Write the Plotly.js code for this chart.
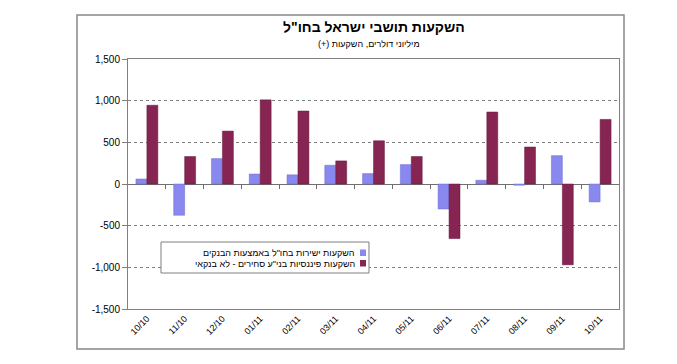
<!DOCTYPE html>
<html>
<head>
<meta charset="utf-8">
<script src="https://cdn.plot.ly/plotly-3.0.1.min.js"></script>
<style>
html,body{margin:0;padding:0;background:#fff;}
#chart{width:677px;height:364px;}
</style>
</head>
<body>
<div id="chart"></div>
<script>
const categories = ['10/10','11/10','12/10','01/11','02/11','03/11','04/11','05/11','06/11','07/11','08/11','09/11','10/11'];
const banksValues = [60, -375, 305, 120, 110, 225, 125, 233, -300, 45, -15, 340, -215];
const nonBankValues = [945, 330, 635, 1010, 876, 277, 519, 330, -655, 864, 444, -970, 775];
const seriesNames = ['השקעות ישירות בחו"ל באמצעות הבנקים', 'השקעות פיננסיות בני"ע סחירים - לא בנקאי'];
const titleText = 'השקעות תושבי ישראל בחו"ל';
const subtitleText = 'מיליוני דולרים, השקעות (+)';
const yTickVals = [-1500, -1000, -500, 0, 500, 1000, 1500];
const yTickText = ['-1,500', '-1,000', '-500', '0', '500', '1,000', '1,500'];

const blue = '#8888ee';
const red = '#862452';
const RLM = '\u200F';
const FAM = 'Liberation Sans, Arial, sans-serif';

const traces = [
  {type: 'bar', x: categories, y: banksValues, name: seriesNames[0],
   marker: {color: blue, line: {color: '#6c6cd4', width: 0.5}}},
  {type: 'bar', x: categories, y: nonBankValues, name: seriesNames[1],
   marker: {color: red, line: {color: '#661a3e', width: 0.5}}},
  {type: 'scatter', x: [], y: [], xaxis: 'x2', yaxis: 'y', mode: 'markers', showlegend: false, hoverinfo: 'skip'}
];

const boundaries = [];
for (let i = 0; i < categories.length - 1; i++) boundaries.push(i + 0.5);

const font = {family: FAM, size: 10, color: '#000'};

const layout = {
  width: 677, height: 364,
  margin: {l: 128, r: 58, t: 59, b: 55},
  paper_bgcolor: '#fff', plot_bgcolor: '#fff',
  showlegend: false,
  barmode: 'group', bargap: 0.42, bargroupgap: 0,
  font: font,
  xaxis: {
    type: 'category', tickangle: -45, ticks: '', showgrid: false,
    showline: true, mirror: true, linecolor: '#808080', linewidth: 1,
    tickfont: {family: FAM, size: 9, color: '#000'},
    zeroline: false, fixedrange: true
  },
  xaxis2: {
    type: 'linear', overlaying: 'x', anchor: 'free', position: 0.5,
    range: [-0.5, categories.length - 0.5], tickmode: 'array', tickvals: boundaries,
    ticks: 'outside', ticklen: 4, tickcolor: '#707070', showticklabels: false,
    showgrid: false, showline: false, zeroline: false, fixedrange: true
  },
  yaxis: {
    range: [-1500, 1500], tickmode: 'array', tickvals: yTickVals, ticktext: yTickText,
    ticks: 'outside', ticklen: 5, tickcolor: '#808080',
    showline: true, mirror: true, linecolor: '#808080', linewidth: 1,
    showgrid: true, gridcolor: '#808080', griddash: 'dot', gridwidth: 1,
    zeroline: true, zerolinecolor: '#707070', zerolinewidth: 1,
    tickfont: font, fixedrange: true
  },
  shapes: [
    {type: 'rect', xref: 'paper', yref: 'paper', x0: -0.1039, x1: 1.0102, y0: -0.16, y1: 1.176,
     line: {color: '#888', width: 1.5}, fillcolor: 'rgba(0,0,0,0)', layer: 'below'},
    {type: 'rect', xref: 'paper', yref: 'paper', x0: 0.0672, x1: 0.4908, y0: 0.144, y1: 0.268,
     line: {color: '#808080', width: 1}, fillcolor: '#fff'},
    {type: 'rect', xref: 'paper', yref: 'paper', x0: 0.4725, x1: 0.4847, y0: 0.212, y1: 0.238,
     line: {width: 0}, fillcolor: blue},
    {type: 'rect', xref: 'paper', yref: 'paper', x0: 0.4725, x1: 0.4847, y0: 0.170, y1: 0.196,
     line: {width: 0}, fillcolor: red}
  ],
  annotations: [
    {xref: 'paper', yref: 'paper', x: 0.5, y: 1.128, text: '<b>' + titleText + '</b>', showarrow: false,
     font: {family: FAM, size: 14, color: '#000'}, xanchor: 'center', yanchor: 'middle'},
    {xref: 'paper', yref: 'paper', x: 0.491, y: 1.06, text: RLM + subtitleText + RLM, showarrow: false,
     font: {family: FAM, size: 9, color: '#000'}, xanchor: 'center', yanchor: 'middle'},
    {xref: 'paper', yref: 'paper', x: 0.4664, y: 0.225, text: seriesNames[0], showarrow: false,
     font: {family: FAM, size: 9, color: '#000'}, xanchor: 'right', yanchor: 'middle'},
    {xref: 'paper', yref: 'paper', x: 0.4664, y: 0.182, text: seriesNames[1], showarrow: false,
     font: {family: FAM, size: 9, color: '#000'}, xanchor: 'right', yanchor: 'middle'}
  ]
};

Plotly.newPlot('chart', traces, layout, {staticPlot: true, displayModeBar: false});
</script>
</body>
</html>
